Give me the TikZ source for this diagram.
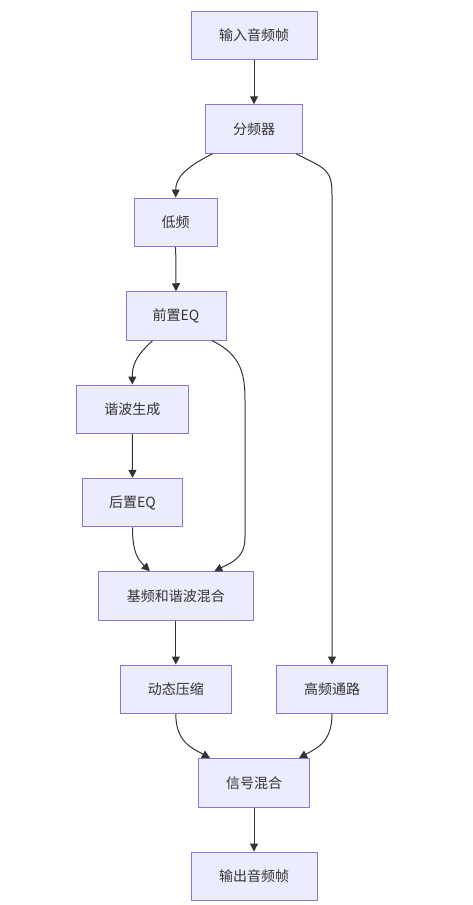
\documentclass[tikz,border=0pt]{standalone}
\usepackage{fontspec}
\setmainfont{Noto Sans CJK SC}
\usetikzlibrary{arrows.meta,calc}
\definecolor{nodefill}{HTML}{ECECFF}
\definecolor{nodeline}{HTML}{9370DB}
\definecolor{edgeline}{HTML}{333333}
\begin{document}
\begin{tikzpicture}[x=1pt,y=-1pt,
  box/.style={draw=nodeline,fill=nodefill,line width=1pt,minimum height=48.5pt,inner sep=0pt,
    font=\fontsize{14}{16}\selectfont,text=edgeline},
  edge/.style={draw=edgeline,line width=1pt,-{Triangle[length=8pt,width=8pt]}}]
\useasboundingbox[fill=white] (0,0) rectangle (473,905);
\node[box,minimum width=126pt] (in) at (254,35.5) {输入音频帧};
\node[box,minimum width=97pt] (fq) at (254,129) {分频器};
\node[box,minimum width=83pt] (lo) at (175.7,222.3) {低频};
\node[box,minimum width=100pt] (pre) at (176,316) {前置EQ};
\node[box,minimum width=112pt] (hg) at (132.3,409.3) {谐波生成};
\node[box,minimum width=100.5pt] (post) at (132.5,502.7) {后置EQ};
\node[box,minimum width=155pt] (mix1) at (175.8,596) {基频和谐波混合};
\node[box,minimum width=111.5pt] (dc) at (175.8,689.3) {动态压缩};
\node[box,minimum width=111.5pt] (hi) at (332,689.3) {高频通路};
\node[box,minimum width=111.5pt] (mix2) at (254,782.8) {信号混合};
\node[box,minimum width=126pt] (out) at (254,876.3) {输出音频帧};

\draw[edge] (in.south) -- (fq.south |- fq.north);
\draw[edge] ($(fq.south)+(-41.5,0)$) .. controls +(-30,15) and +(0,-18) .. (lo.north);
\draw[edge] ($(fq.south)+(42,0)$) .. controls +(30,15) and +(0,-25) .. ($(hi.north)+(0,-470)$) -- (hi.north);
\draw[edge] (lo.south) -- (pre.north);
\draw[edge] ($(pre.south)+(-23.5,0)$) .. controls +(-18,16) and +(0,-18) .. (hg.north);
\draw[edge] ($(pre.south)+(36,0)$) .. controls +(30,14) and +(0,-25) .. ($(pre.south)+(69,60)$)
  -- ($(pre.south)+(69,196)$) .. controls +(0,20) and +(20,-10) .. ($(mix1.north)+(38.5,0)$);
\draw[edge] (hg.south) -- (post.north);
\draw[edge] (post.south) .. controls +(0,25) and +(-12,-12) .. ($(mix1.north)+(-26,0)$);
\draw[edge] (mix1.south) -- (dc.north);
\draw[edge] (dc.south) .. controls +(0,28) and +(-18,-10) .. ($(mix2.north)+(-44,0)$);
\draw[edge] (hi.south) .. controls +(0,28) and +(18,-10) .. ($(mix2.north)+(45,0)$);
\draw[edge] (mix2.south) -- (out.north);
\end{tikzpicture}
\end{document}
